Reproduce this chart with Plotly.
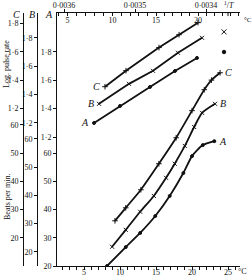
import plotly.graph_objects as go

# ---------------- data ----------------
# Lower panel: heart beats per minute against temperature (deg C)
temp_A = [8.2, 10.8, 12.8, 14.9, 16.9, 18.8, 20.0, 21.5, 23.1]
beats_A = [20.0, 26.7, 31.7, 37.7, 44.8, 52.9, 58.9, 62.8, 64.2]
temp_B = [8.9, 10.8, 12.8, 14.7, 16.4, 17.6, 19.0, 20.3, 21.4, 23.2]
beats_B = [21.8, 27.8, 34.2, 39.8, 46.2, 51.2, 57.5, 64.2, 69.2, 72.4]
temp_C = [9.3, 10.8, 12.9, 15.4, 17.8, 20.0, 21.7, 22.7, 23.9]
beats_C = [26.0, 30.6, 37.0, 46.2, 55.4, 65.0, 72.4, 75.8, 78.4]

# Upper panel: log pulse rate against 1/T (Arrhenius plot)
invT_A = [0.0035577, 0.0035211, 0.0034789, 0.0034437, 0.0034127]
log_A = [1.299, 1.419, 1.553, 1.666, 1.758]
invT_B = [0.0035507, 0.0035085, 0.0034746, 0.0034394, 0.0034056]
log_B = [1.334, 1.475, 1.567, 1.694, 1.800]
invT_C = [0.0035423, 0.0035127, 0.0034662, 0.0034380, 0.0034113]
log_C = [1.355, 1.468, 1.631, 1.722, 1.807]
# isolated high-temperature points
invT_extra_A = [0.0033746]
log_extra_A = [1.80]
invT_extra_B = [0.0033746]
log_extra_B = [1.842]
invT_extra_C = [0.0033690]
log_extra_C = [1.878]

# axis ticks
beat_ticks = [20, 30, 40, 50, 60]
log_ticks = [1.2, 1.4, 1.6, 1.8]
log_labels = ["1·2", "1·4", "1·6", "1·8"]
temp_ticks = [5, 10, 15, 20, 25]
invT_ticks = [0.0036, 0.0035, 0.0034]
invT_labels = ["0·0036", "0·0035", "0·0034"]
top_temps = list(range(4, 26))

# ---------------- layout geometry ----------------
W, H = 252, 277
ML, MR, MT, MB = 0, 12, 13, 11
PW = W - ML - MR
PH = H - MT - MB
x_left = 57 / PW
pos_B = 37 / PW
pos_C = 23 / PW

SERIF = "Liberation Serif"
INK = "#111111"
tickfont = dict(family=SERIF, size=8, color=INK)

fig = go.Figure()


def curve(x, y, xa, ya, sym, size, shape="linear"):
    fig.add_trace(go.Scatter(
        x=x, y=y, xaxis=xa, yaxis=ya, mode="lines+markers",
        line=dict(color=INK, width=1.8, shape=shape, smoothing=0.6),
        marker=dict(symbol=sym, size=size, color=INK,
                    line=dict(color=INK, width=1)),
        hoverinfo="skip"))


def points(x, y, xa, ya, sym, size):
    fig.add_trace(go.Scatter(
        x=x, y=y, xaxis=xa, yaxis=ya, mode="markers",
        marker=dict(symbol=sym, size=size, color=INK,
                    line=dict(color=INK, width=1)),
        hoverinfo="skip"))


# lower curves (temperature axis)
curve(temp_A, beats_A, "x", "y", "circle", 3, "spline")
curve(temp_B, beats_B, "x", "y3", "x-thin", 4, "spline")
curve(temp_C, beats_C, "x", "y5", "cross-thin", 4, "spline")
# upper lines (1/T axis)
curve(invT_A, log_A, "x2", "y2", "circle", 3)
curve(invT_B, log_B, "x2", "y4", "x-thin", 4)
curve(invT_C, log_C, "x2", "y6", "cross-thin", 4)
points(invT_extra_A, log_extra_A, "x2", "y2", "circle", 3.5)
points(invT_extra_B, log_extra_B, "x2", "y4", "x-thin", 5)
points(invT_extra_C, log_extra_C, "x2", "y6", "cross-thin", 5)
# empty trace so that the top temperature scale is drawn
fig.add_trace(go.Scatter(x=[], y=[], xaxis="x3", yaxis="y",
                         mode="markers", hoverinfo="skip"))

# ranges
T_lo, T_hi = 5 + (57 - 84) / 7.2, 5 + (240 - 84) / 7.2
inv_lo, inv_hi = 0.0036 + 7 / 710000, 0.0036 - 176 / 710000
beatA = [20, 20 + 253 / 2.825]
logA = [1.2 - 129 / 141.7, 1.2 - 129 / 141.7 + 253 / 141.7]

base_y = dict(showgrid=False, zeroline=False, ticks="outside", ticklen=3,
              tickwidth=1, tickcolor=INK, linecolor=INK, linewidth=1,
              tickfont=tickfont, automargin=False, fixedrange=True)

top_text = [str(t) if t in temp_ticks else "" for t in top_temps]
top_vals = [1 / (t + 273.15) for t in top_temps]

fig.update_layout(
    width=W, height=H, margin=dict(l=ML, r=MR, t=MT, b=MB),
    paper_bgcolor="white", plot_bgcolor="white", template="none",
    font=dict(family=SERIF, color=INK, size=8),
    showlegend=False,
    xaxis=dict(domain=[x_left, 1], range=[T_lo, T_hi], anchor="y",
               showline=True, linecolor=INK, linewidth=1,
               showgrid=False, zeroline=False, ticks="outside", ticklen=3,
               tickcolor=INK, tickvals=temp_ticks, tickfont=tickfont,
               ticklabelstandoff=-5,
               minor=dict(dtick=1, ticks="outside", ticklen=3,
                          tickcolor=INK, showgrid=False),
               automargin=False),
    xaxis2=dict(overlaying="x", side="top", anchor="y",
                range=[inv_lo, inv_hi], showline=True, linecolor=INK,
                linewidth=1, showgrid=False, zeroline=False,
                ticks="outside", ticklen=3, tickcolor=INK,
                tickvals=invT_ticks, ticktext=invT_labels,
                tickfont=tickfont, ticklabelstandoff=-2, automargin=False),
    xaxis3=dict(overlaying="x", side="top", anchor="y",
                range=[inv_lo, inv_hi], showline=False, showgrid=False,
                zeroline=False, ticks="inside", ticklen=3,
                tickcolor=INK, tickvals=top_vals, ticktext=top_text,
                ticklabelposition="inside", tickfont=tickfont,
                automargin=False),
    yaxis=dict(base_y, range=beatA, anchor="x", showline=True,
               tickvals=beat_ticks),
    yaxis2=dict(base_y, range=logA, overlaying="y", anchor="x",
                showline=False, tickvals=log_ticks, ticktext=log_labels),
    yaxis3=dict(base_y, range=[beatA[0] - 5, beatA[1] - 5], overlaying="y",
                anchor="free", position=pos_B, showline=True,
                tickvals=beat_ticks),
    yaxis4=dict(base_y, range=[logA[0] - 0.1, logA[1] - 0.1],
                overlaying="y", anchor="free", position=pos_B,
                showline=False, tickvals=log_ticks, ticktext=log_labels),
    yaxis5=dict(base_y, range=[beatA[0] - 10, beatA[1] - 10],
                overlaying="y", anchor="free", position=pos_C,
                showline=True, tickvals=beat_ticks),
    yaxis6=dict(base_y, range=[logA[0] - 0.2, logA[1] - 0.2],
                overlaying="y", anchor="free", position=pos_C,
                showline=False, tickvals=log_ticks, ticktext=log_labels),
)

ital = dict(family=SERIF, size=10, color=INK)
small = dict(family=SERIF, size=7, color=INK)
ann = []
# axis letters
for txt, px in (("C", 16), ("B", 32), ("A", 49)):
    ann.append(dict(text=f"<i>{txt}</i>", x=px / PW, y=(266 - 15) / PH,
                    xref="paper", yref="paper", showarrow=False,
                    font=ital, xanchor="center", yanchor="middle"))
# axis titles
ann.append(dict(text="Log. pulse rate", x=7 / PW, y=(266 - 64) / PH,
                xref="paper", yref="paper", showarrow=False, textangle=-90,
                font=dict(family=SERIF, size=8, color=INK),
                xanchor="center", yanchor="middle"))
ann.append(dict(text="Beats per min.", x=7 / PW, y=(266 - 197) / PH,
                xref="paper", yref="paper", showarrow=False, textangle=-90,
                font=dict(family=SERIF, size=8, color=INK),
                xanchor="center", yanchor="middle"))
# unit labels
ann.append(dict(text="°C", x=(236 - ML) / PW, y=(266 - 271) / PH,
                xref="paper", yref="paper", xanchor="left",
                yanchor="middle", showarrow=False, font=tickfont))
ann.append(dict(text="°C", x=(242 - ML) / PW, y=(266 - 20) / PH,
                xref="paper", yref="paper", xanchor="left",
                yanchor="middle", showarrow=False, font=small))
ann.append(dict(text="<sup>1</sup>/<i>T</i>", x=invT_ticks[-1], y=1,
                xref="x2", yref="paper", xanchor="left", yanchor="bottom",
                xshift=16, yshift=1, showarrow=False, font=tickfont))
# curve labels
for txt, xs, ys, yr in (("C", invT_C, log_C, "y6"), ("B", invT_B, log_B, "y4"),
                        ("A", invT_A, log_A, "y2")):
    ann.append(dict(text=f"<i>{txt}</i>", x=xs[0], y=ys[0], xref="x2",
                    yref=yr, xanchor="right", yanchor="middle", xshift=-3,
                    showarrow=False, font=ital))
for txt, xs, ys, yr in (("C", temp_C, beats_C, "y5"),
                        ("B", temp_B, beats_B, "y3"),
                        ("A", temp_A, beats_A, "y")):
    ann.append(dict(text=f"<i>{txt}</i>", x=xs[-1], y=ys[-1], xref="x",
                    yref=yr, xanchor="left", yanchor="middle", xshift=3,
                    showarrow=False, font=ital))
fig.update_layout(annotations=ann)

fig.write_html("out.html")
